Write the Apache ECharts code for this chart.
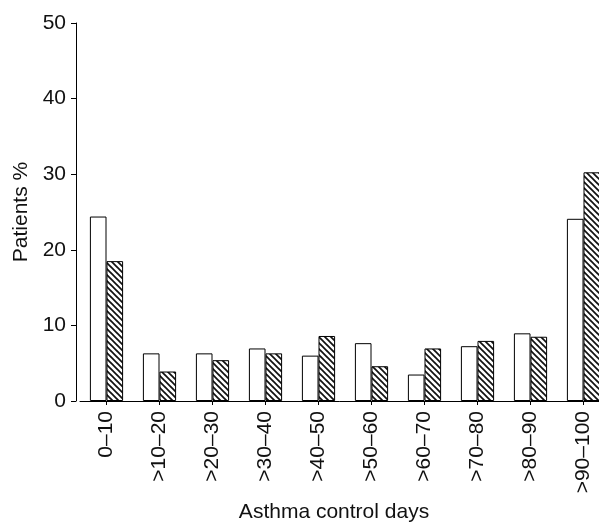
<!DOCTYPE html>
<html>
<head>
<meta charset="utf-8">
<script src="https://cdn.jsdelivr.net/npm/echarts@6/dist/echarts.min.js"></script>
<style>
html,body{margin:0;padding:0;background:#fff;}
#chart{width:599px;height:522px;}
</style>
</head>
<body>
<div id="chart"></div>
<script>
var categories = ['0–10', '>10–20', '>20–30', '>30–40', '>40–50', '>50–60', '>60–70', '>70–80', '>80–90', '>90–100'];
var openValues = [24.4, 6.3, 6.3, 6.95, 6.0, 7.65, 3.5, 7.25, 8.95, 24.1];
var hatchedValues = [18.5, 3.9, 5.4, 6.3, 8.6, 4.6, 6.95, 7.95, 8.5, 30.25];
var yTicks = [0, 10, 20, 30, 40, 50];

var FONT = "'Liberation Sans', Arial, sans-serif";

function makeHatch() {
  var s = 6;
  var c = document.createElement('canvas');
  c.width = s; c.height = s;
  var ctx = c.getContext('2d');
  ctx.fillStyle = '#ffffff';
  ctx.fillRect(0, 0, s, s);
  ctx.strokeStyle = '#111111';
  ctx.lineWidth = 1.7;
  [-s, 0, s].forEach(function (o) {
    ctx.beginPath();
    ctx.moveTo(o - 1, -1);
    ctx.lineTo(o + s + 1, s + 1);
    ctx.stroke();
  });
  return c;
}

var chart = echarts.init(document.getElementById('chart'), null, {renderer: 'canvas'});
chart.setOption({
  animation: false,
  backgroundColor: '#ffffff',
  grid: {left: 80, right: -11, top: 23, bottom: 121, containLabel: false, outerBoundsMode: 'none'},
  xAxis: {
    type: 'category',
    data: categories,
    boundaryGap: true,
    axisLine: {lineStyle: {color: '#000', width: 1}},
    axisTick: {show: true, alignWithLabel: true, length: 4, lineStyle: {color: '#000'}},
    axisLabel: {
      rotate: 90, margin: 10, color: '#111',
      fontFamily: FONT, fontSize: 21, interval: 0
    },
    name: 'Asthma control days',
    nameLocation: 'middle',
    nameGap: 96,
    nameTextStyle: {fontFamily: FONT, fontSize: 21, color: '#111', padding: [0, 22, 0, 0]}
  },
  yAxis: {
    type: 'value',
    min: 0, max: 50, interval: 10,
    offset: 4,
    axisLine: {show: true, lineStyle: {color: '#000', width: 1}},
    axisTick: {show: true, length: 5, lineStyle: {color: '#000'}},
    splitLine: {show: false},
    axisLabel: {
      margin: 10, color: '#111', fontFamily: FONT, fontSize: 21,
      formatter: function (v) { return yTicks.indexOf(v) >= 0 ? String(v) : ''; }
    },
    name: 'Patients %',
    nameLocation: 'middle',
    nameGap: 40,
    nameTextStyle: {fontFamily: FONT, fontSize: 21, color: '#111'}
  },
  series: [
    {
      type: 'bar',
      data: openValues,
      barWidth: 16.6,
      barGap: '0%',
      itemStyle: {color: '#ffffff', borderColor: '#000', borderWidth: 1}
    },
    {
      type: 'bar',
      data: hatchedValues,
      barWidth: 16.6,
      barGap: '0%',
      itemStyle: {color: {image: makeHatch(), repeat: 'repeat'}, borderColor: '#000', borderWidth: 1}
    }
  ]
});
</script>
</body>
</html>
